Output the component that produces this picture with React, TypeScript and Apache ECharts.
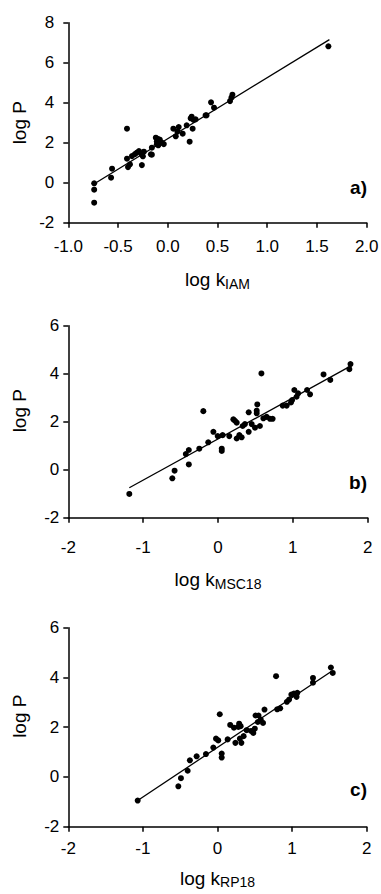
import React, { useEffect, useRef } from "react";
import * as echarts from "echarts";

const FONT = '"Liberation Sans", Arial, Helvetica, sans-serif';

// Panel a) log P vs log k_IAM  [log k, log P]
const iamPoints: [number, number][] = [
  [-0.74, -0.03], [-0.74, -0.35], [-0.74, -1.0], [-0.56, 0.7], [-0.57, 0.25],
  [-0.41, 2.7], [-0.41, 1.2], [-0.4, 0.78], [-0.38, 0.92], [-0.36, 1.33],
  [-0.33, 1.43], [-0.31, 1.5], [-0.29, 1.58], [-0.26, 1.4], [-0.26, 0.88],
  [-0.25, 1.32], [-0.24, 1.55], [-0.17, 1.42], [-0.16, 1.4], [-0.16, 1.75],
  [-0.12, 2.25], [-0.11, 2.06], [-0.095, 2.18], [-0.08, 2.15], [-0.11, 1.92],
  [-0.095, 1.87], [-0.06, 2.0], [-0.04, 1.93], [-0.1, 2.1], [0.056, 2.7],
  [0.08, 2.32], [0.097, 2.55], [0.11, 2.78], [0.15, 2.45], [0.19, 2.87],
  [0.22, 2.05], [0.23, 3.22], [0.24, 3.3], [0.25, 2.7], [0.26, 3.14],
  [0.28, 3.17], [0.38, 3.37], [0.39, 3.37], [0.435, 4.02], [0.465, 3.75],
  [0.626, 4.08], [0.64, 4.25], [0.65, 4.4], [1.615, 6.82],
];

// Panel b) log P vs log k_MSC18
const msc18Points: [number, number][] = [
  [-1.185, -1.01], [-0.61, -0.36], [-0.58, -0.04], [-0.39, 0.22], [-0.43, 0.65],
  [-0.39, 0.82], [-0.25, 0.875], [-0.196, 2.44], [-0.13, 1.14], [-0.062, 1.58],
  [-0.004, 1.4], [0.05, 0.875], [0.05, 0.78], [0.062, 1.44], [0.15, 1.4],
  [0.205, 2.1], [0.227, 2.04], [0.25, 1.96], [0.25, 1.3], [0.285, 1.44],
  [0.316, 1.35], [0.33, 1.82], [0.36, 1.9], [0.41, 2.39], [0.41, 1.58],
  [0.45, 1.9], [0.494, 1.75], [0.517, 2.46], [0.525, 2.72], [0.517, 2.35],
  [0.56, 1.82], [0.58, 4.01], [0.606, 2.14], [0.65, 2.2], [0.695, 2.12],
  [0.73, 2.12], [0.864, 2.67], [0.918, 2.67], [0.975, 2.8], [0.99, 2.9],
  [1.02, 3.32], [1.05, 3.04], [1.07, 3.18], [1.19, 3.32], [1.23, 3.14],
  [1.41, 3.97], [1.5, 3.74], [1.755, 4.19], [1.77, 4.4],
];

// Panel c) log P vs log k_RP18
const rp18Points: [number, number][] = [
  [-1.07, -0.95], [-0.525, -0.375], [-0.49, -0.05], [-0.4, 0.25], [-0.37, 0.67],
  [-0.28, 0.83], [-0.155, 0.92], [-0.056, 1.18], [-0.02, 1.54], [0.01, 1.47],
  [0.03, 2.52], [0.056, 0.94], [0.056, 0.78], [0.136, 1.51], [0.17, 2.09],
  [0.22, 1.98], [0.24, 1.37], [0.28, 2.01], [0.29, 2.14], [0.31, 2.04],
  [0.3, 1.54], [0.32, 1.37], [0.35, 1.64], [0.39, 1.88], [0.45, 1.85],
  [0.48, 1.77], [0.5, 1.94], [0.51, 2.47], [0.55, 2.47], [0.54, 2.21],
  [0.58, 2.31], [0.61, 2.17], [0.63, 2.71], [0.785, 4.05], [0.8, 2.72],
  [0.84, 2.76], [0.93, 3.02], [0.96, 3.11], [0.99, 3.31], [1.025, 3.35],
  [1.06, 3.22], [1.07, 3.38], [1.28, 3.98], [1.28, 3.79], [1.52, 4.4],
  [1.545, 4.18],
];

// Regression lines: [slope, intercept, xFrom, xTo]
const iamFit = [3.05, 2.2, -0.75, 1.625];
const msc18Fit = [1.714, 1.28, -1.185, 1.77];
const rp18Fit = [2.0, 1.19, -1.07, 1.53];

const xTitles = ["log k{s|IAM}", "log k{s|MSC18}", "log k{s|RP18}"];
const yTitle = "log P";
const panelLetters = ["a)", "b)", "c)"];

const App: React.FC = () => {
  const ref = useRef<HTMLDivElement>(null);

  useEffect(() => {
    if (!ref.current) return;
    const chart = echarts.init(ref.current, undefined, { renderer: "svg" });

    const grids = [
      { left: 68.3, top: 22.7, width: 298.4, height: 200 },
      { left: 68.3, top: 325.7, width: 299.4, height: 192 },
      { left: 68.3, top: 627.7, width: 298.4, height: 199 },
    ];

    const xCfg = [
      { min: -1, max: 2, interval: 0.5, dec: 1, margin: 15.5, nameGap: 46 },
      { min: -2, max: 2, interval: 1, dec: 0, margin: 21.5, nameGap: 51 },
      { min: -2, max: 2, interval: 1, dec: 0, margin: 13.5, nameGap: 40.5 },
    ];
    const yCfg = [
      { min: -2, max: 8, interval: 2, margin: 14, shift: 0 },
      { min: -2, max: 6, interval: 2, margin: 9, shift: 22 },
      { min: -2, max: 6, interval: 2, margin: 9, shift: 22 },
    ];
    const letterY = [187, 482, 789];

    const axisLine = { show: true, onZero: false, lineStyle: { color: "#000", width: 1.5 } };
    const axisTick = { show: true, inside: false, length: 5, lineStyle: { color: "#000", width: 1.5 } };

    const xAxes = xCfg.map((c, i) => ({
      type: "value",
      gridIndex: i,
      min: c.min,
      max: c.max,
      interval: c.interval,
      axisLine,
      axisTick,
      splitLine: { show: false },
      axisLabel: {
        color: "#000",
        fontSize: 17,
        fontFamily: FONT,
        margin: c.margin,
        showMinLabel: true,
        showMaxLabel: true,
        hideOverlap: false,
        formatter: (v: number) => v.toFixed(c.dec),
      },
      name: xTitles[i],
      nameLocation: "middle",
      nameGap: c.nameGap,
      nameMoveOverlap: false,
      nameTextStyle: {
        color: "#000",
        fontSize: 19,
        fontFamily: FONT,
        rich: {
          s: { fontSize: 14, fontFamily: FONT, color: "#000", padding: [8, 0, 0, 0] },
        },
      },
    }));

    const yAxes = yCfg.map((c, i) => ({
      type: "value",
      gridIndex: i,
      min: c.min,
      max: c.max,
      interval: c.interval,
      axisLine,
      axisTick,
      splitLine: { show: false },
      axisLabel: {
        color: "#000",
        fontSize: 17,
        fontFamily: FONT,
        margin: c.margin,
        showMinLabel: true,
        showMaxLabel: true,
        hideOverlap: false,
      },
      name: yTitle,
      nameLocation: "middle",
      nameGap: 39,
      nameMoveOverlap: false,
      nameTextStyle: {
        color: "#000",
        fontSize: 19,
        fontFamily: FONT,
        padding: [0, 0, 0, c.shift],
      },
    }));

    const sets = [iamPoints, msc18Points, rp18Points];
    const fits = [iamFit, msc18Fit, rp18Fit];

    const series: any[] = [];
    sets.forEach((pts, i) => {
      const [m, b, x0, x1] = fits[i];
      series.push({
        type: "line",
        xAxisIndex: i,
        yAxisIndex: i,
        data: [
          [x0, m * x0 + b],
          [x1, m * x1 + b],
        ],
        showSymbol: false,
        symbol: "none",
        silent: true,
        lineStyle: { color: "#000", width: 1.3 },
        z: 2,
      });
      series.push({
        type: "scatter",
        xAxisIndex: i,
        yAxisIndex: i,
        data: pts,
        symbol: "circle",
        symbolSize: 6,
        itemStyle: { color: "#000", opacity: 1 },
        silent: true,
        z: 3,
      });
    });

    chart.setOption({
      animation: false,
      backgroundColor: "#fff",
      grid: grids.map((g) => ({ ...g, containLabel: false, outerBoundsMode: "none" })),
      xAxis: xAxes,
      yAxis: yAxes,
      series,
      graphic: panelLetters.map((t, i) => ({
        type: "text",
        x: 367,
        y: letterY[i],
        style: {
          text: t,
          fill: "#000",
          font: `bold 19px ${FONT}`,
          align: "right",
          verticalAlign: "middle",
        },
      })),
    });

    return () => chart.dispose();
  }, []);

  return (
    <div
      ref={ref}
      style={{ position: "absolute", left: 0, top: 0, width: 381, height: 894 }}
    />
  );
};

export default App;
